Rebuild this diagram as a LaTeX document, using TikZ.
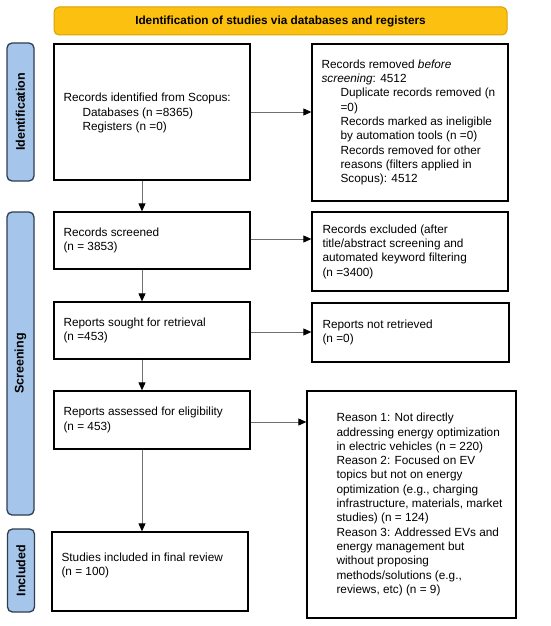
\documentclass[tikz,border=0pt]{standalone}
\usepackage{fontspec}
\setmainfont{Liberation Sans}
\usetikzlibrary{arrows.meta,calc}
\definecolor{bannerfill}{HTML}{FCC010}
\definecolor{bannerdraw}{HTML}{D9A200}
\definecolor{labfill}{HTML}{A6C5EA}
\definecolor{labdraw}{HTML}{2E3E50}
\definecolor{arrowgray}{HTML}{707070}
\tikzset{
  box/.style={draw=black, line width=1.3pt, inner sep=0pt},
  txt/.style={anchor=west, align=left, inner sep=0pt, font=\fontsize{11.8}{14.3}\selectfont},
  banner/.style={draw=bannerdraw, fill=bannerfill, rounded corners=5pt, line width=1pt, inner sep=0pt},
  lab/.style={draw=labdraw, fill=labfill, rounded corners=5pt, line width=1.3pt, inner sep=0pt},
  labtxt/.style={rotate=90, font=\fontsize{12.5}{14}\selectfont\bfseries, inner sep=0pt},
  flow/.style={draw=arrowgray, line width=0.9pt, -{Triangle[length=8pt,width=7pt,fill=black,color=black]}},
}
\newcommand{\ind}{\hspace*{19pt}}
\begin{document}
\begin{tikzpicture}[x=1pt,y=-1pt]
\useasboundingbox (0,0) rectangle (550,626);
\fill[white] (0,0) rectangle (550,626);
% banner
\node[banner, minimum width=453pt, minimum height=28pt, font=\fontsize{11.8}{14}\selectfont\bfseries] (banner) at (280.5,21) {Identification of studies via databases and registers};
% side labels
\node[lab, minimum width=27pt, minimum height=138pt] (lab1) at (20.5,112) {};
\node[labtxt] (lab1t) at (lab1.center) {Identification};
\node[lab, minimum width=27pt, minimum height=303pt] (lab2) at (20.5,363.5) {};
\node[labtxt] (lab2t) at (lab2.center) {Screening};
\node[lab, minimum width=27pt, minimum height=83pt] (lab3) at (21,570.5) {};
\node[labtxt] (lab3t) at (lab3.center) {Included};
% left boxes
\node[box, minimum width=196pt, minimum height=136pt] (b1) at (152,112) {};
\node[txt] (b1t) at ($(b1.west)+(10,1)$) {Records identified from Scopus:\\\ind Databases (n =8365)\\\ind Registers (n =0)};
\node[box, minimum width=196pt, minimum height=57pt] (b2) at (152,240.5) {};
\node[txt] (b2t) at ($(b2.west)+(10,0)$) {Records screened\\(n = 3853)};
\node[box, minimum width=196pt, minimum height=57pt] (b3) at (152,330.5) {};
\node[txt] (b3t) at ($(b3.west)+(10,0)$) {Reports sought for retrieval\\(n =453)};
\node[box, minimum width=196pt, minimum height=58pt] (b4) at (152,420) {};
\node[txt] (b4t) at ($(b4.west)+(10,0)$) {Reports assessed for eligibility\\(n = 453)};
\node[box, minimum width=196pt, minimum height=79pt] (b5) at (150,571.5) {};
\node[txt] (b5t) at ($(b5.west)+(10,-6)$) {Studies included in final review\\(n = 100)};
% right boxes
\node[box, minimum width=196pt, minimum height=157pt] (r1) at (410,122.5) {};
\node[txt] (r1t) at ($(r1.west)+(10,0)$) {Records removed \textit{before}\\\textit{screening}: 4512\\\ind Duplicate records removed (n\\\ind =0)\\\ind Records marked as ineligible\\\ind by automation tools (n =0)\\\ind Records removed for other\\\ind reasons (filters applied in\\\ind Scopus): 4512};
\node[box, minimum width=196pt, minimum height=79pt] (r2) at (410,251.5) {};
\node[txt] (r2t) at ($(r2.west)+(11,0)$) {Records excluded (after\\title/abstract screening and\\automated keyword filtering\\(n =3400)};
\node[box, minimum width=197pt, minimum height=59pt] (r3) at (410.5,332.5) {};
\node[txt] (r3t) at ($(r3.west)+(11,0)$) {Reports not retrieved\\(n =0)};
\node[box, minimum width=209pt, minimum height=227pt] (r4) at (411.5,504.5) {};
\node[txt] (r4t) at ($(r4.west)+(30,0)$) {Reason 1: Not directly\\addressing energy optimization\\in electric vehicles (n = 220)\\Reason 2: Focused on EV\\topics but not on energy\\optimization (e.g., charging\\infrastructure, materials, market\\studies) (n = 124)\\Reason 3: Addressed EVs and\\energy management but\\without proposing\\methods/solutions (e.g.,\\reviews, etc) (n = 9)};
% horizontal arrows
\coordinate (h2) at ($(b2.east)+(0,-1.5)$);
\coordinate (h3) at ($(b3.east)+(0,1.5)$);
\coordinate (h4) at ($(b4.east)+(0,2)$);
\draw[flow] (b1.east) -- (b1.east -| r1.west);
\draw[flow] (h2) -- (h2 -| r2.west);
\draw[flow] (h3) -- (h3 -| r3.west);
\draw[flow] (h4) -- (h4 -| r4.west);
% vertical arrows
\coordinate (v1) at ($(b1.south)+(-10,0)$);
\coordinate (v2) at ($(b2.south)+(-10,0)$);
\coordinate (v3) at ($(b3.south)+(-10,0)$);
\coordinate (v4) at ($(b4.south)+(-10,0)$);
\draw[flow] (v1) -- (v1 |- b2.north);
\draw[flow] (v2) -- (v2 |- b3.north);
\draw[flow] (v3) -- (v3 |- b4.north);
\draw[flow] (v4) -- (v4 |- b5.north);
\end{tikzpicture}
\end{document}
